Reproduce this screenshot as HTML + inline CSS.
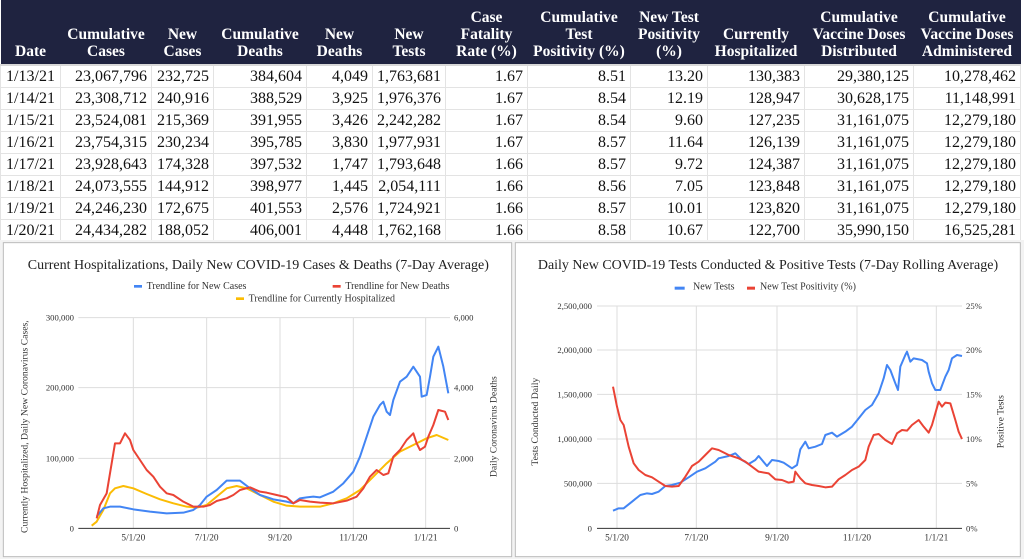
<!DOCTYPE html>
<html><head><meta charset="utf-8"><style>
body{margin:0;width:1024px;height:559px;background:#fff;overflow:hidden;font-family:"Liberation Serif",serif;}
table{border-collapse:collapse;table-layout:fixed;position:absolute;left:0;top:0;width:1020px;}
th{background:#1f2340;color:#fff;font-weight:bold;font-size:15.5px;line-height:17px;height:60px;vertical-align:bottom;padding:0 2px 4px;text-align:center;}
td{font-size:16px;height:21px;padding:0 4px;text-align:right;border:1px solid #e3e3e3;color:#111;}
tr.f td{border-top:2px solid #d8d8d8}
td:first-child{text-align:center;padding:0 2px}
svg{position:absolute;left:0;top:240px}
</style></head><body>
<table>
<colgroup><col style="width:60px"><col style="width:91px"><col style="width:62px"><col style="width:93px"><col style="width:66px"><col style="width:73px"><col style="width:82px"><col style="width:103px"><col style="width:77px"><col style="width:97px"><col style="width:109px"><col style="width:107px"></colgroup>
<tr><th>Date</th><th>Cumulative<br>Cases</th><th>New<br>Cases</th><th>Cumulative<br>Deaths</th><th>New<br>Deaths</th><th>New<br>Tests</th><th>Case<br>Fatality<br>Rate (%)</th><th>Cumulative<br>Test<br>Positivity (%)</th><th>New Test<br>Positivity<br>(%)</th><th>Currently<br>Hospitalized</th><th>Cumulative<br>Vaccine Doses<br>Distributed</th><th>Cumulative<br>Vaccine Doses<br>Administered</th></tr>
<tr class="f"><td>1/13/21</td><td>23,067,796</td><td>232,725</td><td>384,604</td><td>4,049</td><td>1,763,681</td><td>1.67</td><td>8.51</td><td>13.20</td><td>130,383</td><td>29,380,125</td><td>10,278,462</td></tr>
<tr><td>1/14/21</td><td>23,308,712</td><td>240,916</td><td>388,529</td><td>3,925</td><td>1,976,376</td><td>1.67</td><td>8.54</td><td>12.19</td><td>128,947</td><td>30,628,175</td><td>11,148,991</td></tr>
<tr><td>1/15/21</td><td>23,524,081</td><td>215,369</td><td>391,955</td><td>3,426</td><td>2,242,282</td><td>1.67</td><td>8.54</td><td>9.60</td><td>127,235</td><td>31,161,075</td><td>12,279,180</td></tr>
<tr><td>1/16/21</td><td>23,754,315</td><td>230,234</td><td>395,785</td><td>3,830</td><td>1,977,931</td><td>1.67</td><td>8.57</td><td>11.64</td><td>126,139</td><td>31,161,075</td><td>12,279,180</td></tr>
<tr><td>1/17/21</td><td>23,928,643</td><td>174,328</td><td>397,532</td><td>1,747</td><td>1,793,648</td><td>1.66</td><td>8.57</td><td>9.72</td><td>124,387</td><td>31,161,075</td><td>12,279,180</td></tr>
<tr><td>1/18/21</td><td>24,073,555</td><td>144,912</td><td>398,977</td><td>1,445</td><td>2,054,111</td><td>1.66</td><td>8.56</td><td>7.05</td><td>123,848</td><td>31,161,075</td><td>12,279,180</td></tr>
<tr><td>1/19/21</td><td>24,246,230</td><td>172,675</td><td>401,553</td><td>2,576</td><td>1,724,921</td><td>1.66</td><td>8.57</td><td>10.01</td><td>123,820</td><td>31,161,075</td><td>12,279,180</td></tr>
<tr><td>1/20/21</td><td>24,434,282</td><td>188,052</td><td>406,001</td><td>4,448</td><td>1,762,168</td><td>1.66</td><td>8.58</td><td>10.67</td><td>122,700</td><td>35,990,150</td><td>16,525,281</td></tr>
</table>
<svg width="1024" height="319" viewBox="0 0 1024 319" font-family="Liberation Serif, serif">
<rect x="0" y="0" width="1024" height="319" fill="#f3f3f3"/>
<g transform="scale(0.33333)" fill="none">
<rect x="10" y="8" width="1525" height="942" fill="#fff" stroke="#bbb" stroke-width="3"/>
<g stroke="#ddd" stroke-width="3">
<line x1="235" y1="233" x2="1350" y2="233"/><line x1="235" y1="443" x2="1350" y2="443"/><line x1="235" y1="655" x2="1350" y2="655"/>
<line x1="400" y1="233" x2="400" y2="865"/><line x1="620" y1="233" x2="620" y2="865"/><line x1="840" y1="233" x2="840" y2="865"/><line x1="1060" y1="233" x2="1060" y2="865"/><line x1="1277" y1="233" x2="1277" y2="865"/>
</g>
<line x1="235" y1="865" x2="1350" y2="865" stroke="#333" stroke-width="3"/>
<g stroke-width="6" stroke-linejoin="round">
<polyline stroke="#fbbc04" points="275,857 290,845 310,810 330,760 345,745 370,738 400,745 440,762 480,778 520,790 560,800 590,803 620,795 650,770 680,745 710,738 740,745 780,765 820,785 860,797 900,800 960,800 1000,790 1040,775 1080,750 1120,710 1160,670 1200,635 1240,615 1280,595 1310,585 1345,600"/>
<polyline stroke="#4285f4" points="290,830 310,805 330,800 360,800 400,808 450,815 500,820 550,818 580,810 600,795 620,770 650,750 680,722 720,722 750,745 780,765 820,778 860,785 880,790 900,775 920,772 940,770 960,772 1000,755 1030,730 1060,695 1080,650 1100,590 1120,530 1140,495 1150,485 1160,515 1170,525 1180,480 1200,425 1220,410 1240,380 1260,410 1265,470 1280,465 1290,410 1300,350 1315,320 1330,380 1345,460"/>
<polyline stroke="#ea4335" points="290,835 300,795 320,760 340,640 345,610 360,610 375,580 390,600 400,630 420,660 440,690 460,710 480,740 500,760 520,765 550,785 580,800 610,800 630,795 650,783 680,775 700,765 720,750 750,742 780,755 800,758 830,765 860,772 880,790 900,780 930,785 960,788 1000,790 1040,782 1070,770 1090,745 1110,710 1130,690 1150,705 1165,700 1180,650 1200,630 1220,600 1240,580 1250,610 1260,630 1275,620 1285,590 1300,555 1315,510 1335,515 1345,540"/>
</g>
<g fill="#222" stroke="none" font-size="40">
<text x="775" y="87" text-anchor="middle" font-size="42">Current Hospitalizations, Daily New COVID-19 Cases &amp; Deaths (7-Day Average)</text>
</g>
<g stroke="none" font-size="30" fill="#333">
<rect x="402" y="135" width="24" height="8" fill="#4285f4"/><text x="440" y="147">Trendline for New Cases</text>
<rect x="998" y="135" width="24" height="8" fill="#ea4335"/><text x="1036" y="147">Trendline for New Deaths</text>
<rect x="708" y="172" width="24" height="8" fill="#fbbc04"/><text x="746" y="184">Trendline for Currently Hospitalized</text>
<g font-size="26" text-anchor="end"><text x="222" y="242">300,000</text><text x="222" y="452">200,000</text><text x="222" y="664">100,000</text><text x="222" y="874">0</text></g>
<g font-size="26"><text x="1362" y="242">6,000</text><text x="1362" y="452">4,000</text><text x="1362" y="664">2,000</text><text x="1362" y="874">0</text></g>
<g font-size="28" text-anchor="middle"><text x="400" y="902">5/1/20</text><text x="620" y="902">7/1/20</text><text x="840" y="902">9/1/20</text><text x="1060" y="902">11/1/20</text><text x="1277" y="902">1/1/21</text></g>
<text transform="translate(82,560) rotate(-90)" text-anchor="middle" font-size="29">Currently Hospitalized, Daily New Coronavirus Cases,</text>
<text transform="translate(1490,560) rotate(-90)" text-anchor="middle" font-size="29">Daily Coronavirus Deaths</text>
</g>
</g>
<g transform="translate(512,0) scale(0.33333)" fill="none">
<rect x="10" y="8" width="1515" height="942" fill="#fff" stroke="#bbb" stroke-width="3"/>
<g stroke="#ddd" stroke-width="3">
<line x1="255" y1="198" x2="1350" y2="198"/><line x1="255" y1="330" x2="1350" y2="330"/><line x1="255" y1="463" x2="1350" y2="463"/><line x1="255" y1="597" x2="1350" y2="597"/><line x1="255" y1="730" x2="1350" y2="730"/>
<line x1="315" y1="198" x2="315" y2="865"/><line x1="553" y1="198" x2="553" y2="865"/><line x1="795" y1="198" x2="795" y2="865"/><line x1="1035" y1="198" x2="1035" y2="865"/><line x1="1273" y1="198" x2="1273" y2="865"/>
</g>
<line x1="255" y1="865" x2="1350" y2="865" stroke="#333" stroke-width="3"/>
<g stroke-width="6" stroke-linejoin="round">
<polyline stroke="#4285f4" points="303,812 320,805 335,805 360,785 385,765 405,760 420,762 440,755 460,738 480,735 505,728 530,712 555,695 580,685 610,665 620,655 650,648 670,640 690,660 710,672 730,660 740,648 750,660 765,678 780,660 800,663 815,668 840,685 855,675 865,628 880,605 890,625 910,620 930,612 940,585 960,578 975,590 1000,575 1020,560 1040,535 1060,510 1080,495 1100,460 1115,415 1125,375 1135,390 1150,430 1158,450 1165,380 1180,345 1185,335 1195,365 1205,355 1230,360 1245,370 1250,395 1260,430 1270,450 1285,450 1300,410 1310,390 1320,355 1335,345 1350,348"/>
<polyline stroke="#ea4335" points="303,440 315,500 325,540 335,555 350,620 365,670 380,690 400,705 420,712 440,725 460,738 480,740 500,738 520,710 540,678 560,665 580,645 600,625 620,630 650,645 680,655 700,665 720,680 740,695 770,700 790,718 810,720 830,728 845,725 850,695 865,715 880,730 900,735 920,738 940,742 960,740 980,718 1000,705 1020,690 1040,680 1060,660 1070,620 1085,585 1100,582 1120,600 1140,612 1155,580 1170,570 1185,572 1200,555 1220,540 1235,560 1250,578 1260,555 1270,520 1280,485 1290,500 1300,488 1315,490 1330,540 1340,575 1350,597"/>
</g>
<g stroke="none" fill="#222">
<text x="768" y="87" text-anchor="middle" font-size="42">Daily New COVID-19 Tests Conducted &amp; Positive Tests (7-Day Rolling Average)</text>
<g font-size="30" fill="#333">
<rect x="488" y="140" width="30" height="9" fill="#4285f4"/><text x="543" y="148">New Tests</text>
<rect x="705" y="140" width="24" height="9" fill="#ea4335"/><text x="744" y="148">New Test Positivity (%)</text>
</g>
<g font-size="26" text-anchor="end" fill="#333"><text x="240" y="207">2,500,000</text><text x="240" y="339">2,000,000</text><text x="240" y="472">1,500,000</text><text x="240" y="606">1,000,000</text><text x="240" y="739">500,000</text><text x="240" y="874">0</text></g>
<g font-size="26" fill="#333"><text x="1362" y="207">25%</text><text x="1362" y="339">20%</text><text x="1362" y="472">15%</text><text x="1362" y="606">10%</text><text x="1362" y="739">5%</text><text x="1362" y="874">0%</text></g>
<g font-size="28" text-anchor="middle" fill="#333"><text x="315" y="902">5/1/20</text><text x="553" y="902">7/1/20</text><text x="795" y="902">9/1/20</text><text x="1035" y="902">11/1/20</text><text x="1273" y="902">1/1/21</text></g>
<text transform="translate(78,545) rotate(-90)" text-anchor="middle" font-size="29" fill="#333">Tests Conducted Daily</text>
<text transform="translate(1475,545) rotate(-90)" text-anchor="middle" font-size="29" fill="#333">Positive Tests</text>
</g>
</g>
</svg>
</body></html>
